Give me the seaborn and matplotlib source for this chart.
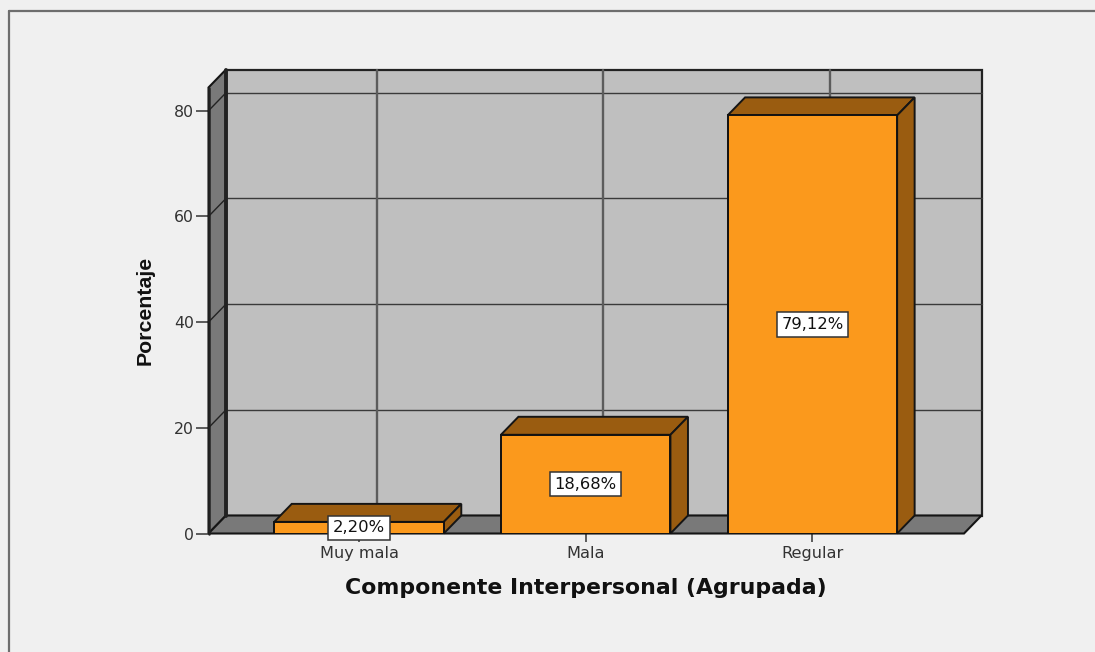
import matplotlib
matplotlib.use('Agg')
import matplotlib.pyplot as plt
import seaborn as sns
from matplotlib.lines import Line2D
from matplotlib.patches import Polygon

categorias = ['Muy mala', 'Mala', 'Regular']
porcentajes = [2.20, 18.68, 79.12]
etiquetas = ['2,20%', '18,68%', '79,12%']
marcas_y = [0, 20, 40, 60, 80]

W, H = 1095, 652
FONDO = '#f0f0f0'
PARED = '#bfbfbf'
GRIS = '#797979'
NARANJA = '#fb991c'
MARRON = '#9a5c10'

sns.set_theme(style='white')
plt.rcParams['font.family'] = ['DejaVu Sans']

fig = plt.figure(figsize=(W / 100, H / 100), dpi=100, facecolor=FONDO)
# front plane of the fake 3d box, in pixels
izq, der, arriba, abajo = 208.5, 964, 87.5, 533.5
ax = fig.add_axes([izq / W, 1 - abajo / H, (der - izq) / W, (abajo - arriba) / H])
ax.patch.set_visible(False)

sns.barplot(x=categorias, y=porcentajes, color=NARANJA, saturation=1, width=0.748,
            edgecolor='#111111', linewidth=1.4, ax=ax, zorder=6)
x0, x1 = -0.664, 2.669
y0, y1 = 0, 84.4
ax.set_xlim(x0, x1)
ax.set_ylim(y0, y1)

# depth of the box in data units
dx = 17.5 * (x1 - x0) / (der - izq)
dy = 18 * (y1 - y0) / (abajo - arriba)


def cara(puntos, color, z, lw=1.5, borde='#151515'):
    ax.add_patch(Polygon(puntos, closed=True, facecolor=color, edgecolor=borde,
                         linewidth=lw, zorder=z, clip_on=False, joinstyle='miter'))


# back wall, left wall, floor
cara([(x0 + dx, dy), (x1 + dx, dy), (x1 + dx, y1 + dy), (x0 + dx, y1 + dy)], PARED, 1, lw=1.6, borde='#222222')
cara([(x0, y0), (x0 + dx, dy), (x0 + dx, y1 + dy), (x0, y1)], GRIS, 2)
cara([(x0, y0), (x1, y0), (x1 + dx, dy), (x0 + dx, dy)], GRIS, 2)
ax.plot([x0 + dx, x0 + dx], [dy, y1 + dy], color='#222222', lw=2.8, zorder=3, clip_on=False)
ax.plot([x0, x0], [0, y1], color='#222222', lw=1.8, zorder=3, clip_on=False)

# grid on the back wall
for v in marcas_y[1:]:
    ax.plot([x0 + dx, x1 + dx], [v + dy, v + dy], color='#3a3a3a', lw=1.0, zorder=1.5, clip_on=False)
    ax.plot([x0, x0 + dx], [v, v + dy], color='#222222', lw=1.0, zorder=3, clip_on=False)
for i in range(len(categorias)):
    ax.plot([i + dx, i + dx], [dy, y1 + dy], color='#5c5c5c', lw=1.7, zorder=1.5, clip_on=False)

# top and side of every bar
for barra in ax.patches[:len(categorias)]:
    a, b = barra.get_x(), barra.get_x() + barra.get_width()
    h = barra.get_height()
    cara([(a, h), (b, h), (b + dx, h + dy), (a + dx, h + dy)], MARRON, 5, lw=1.4)
    cara([(b, 0), (b + dx, dy), (b + dx, h + dy), (b, h)], MARRON, 5, lw=1.4)

ax.bar_label(ax.containers[0], labels=etiquetas, label_type='center', fontsize=11.8,
             color='#111111', zorder=8,
             bbox=dict(boxstyle='square,pad=0.28', facecolor='white', edgecolor='#333333', linewidth=1.1))

sns.despine(ax=ax, left=True, bottom=True)
ax.set_yticks(marcas_y)
ax.tick_params(axis='y', length=9.4, width=1.1, color='#333333', labelsize=11.3, labelcolor='#333333', pad=1, left=True)
ax.tick_params(axis='x', length=5.5, width=1.1, color='#333333', labelsize=11.6, labelcolor='#333333', pad=3.2, bottom=True)
ax.set_xlabel('Componente Interpersonal (Agrupada)', fontsize=15.8, fontweight='bold', color='#111111', labelpad=12.5)
ax.set_ylabel('Porcentaje', fontsize=15.3, fontweight='bold', color='#111111', labelpad=14,
              family='Liberation Sans')

# frame of the pasted picture
fig.add_artist(Line2D([9 / W, 9 / W], [0, 1 - 10.5 / H], color='#6e6e6e', lw=1.6))
fig.add_artist(Line2D([9 / W, 1], [1 - 10.5 / H, 1 - 10.5 / H], color='#6e6e6e', lw=1.6))

fig.savefig('out.png', dpi=100, facecolor=FONDO)
